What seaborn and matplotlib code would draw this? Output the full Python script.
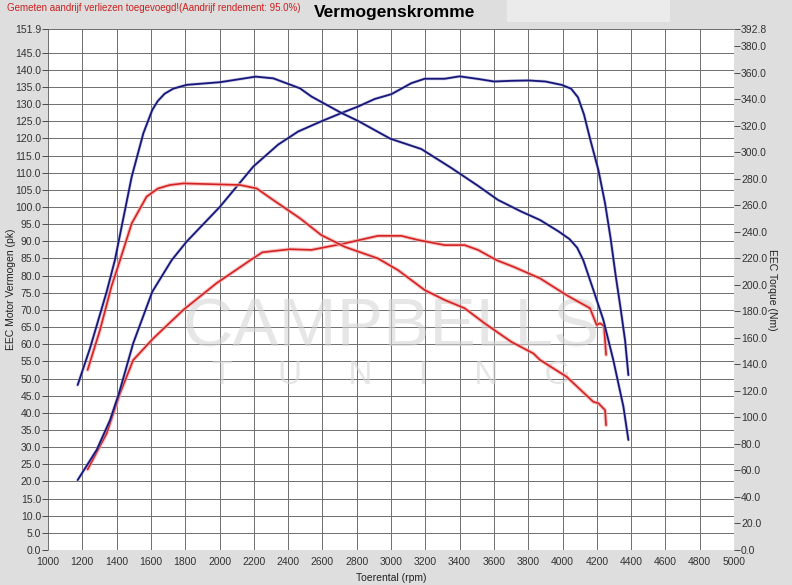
import numpy as np
import pandas as pd
import matplotlib
matplotlib.use("Agg")
import matplotlib.pyplot as plt
import matplotlib.patheffects as pe
from matplotlib.patches import Rectangle
import seaborn as sns

# tuned car (blue) - power in pk, torque in Nm
blue_pk_rpm = [1173, 1284, 1362, 1414, 1497, 1608, 1721, 1808, 2003, 2197, 2342, 2458, 2594,
               2711, 2808, 2905, 3002, 3118, 3196, 3313, 3400, 3513, 3600, 3701, 3803, 3900,
               3996, 4050, 4090, 4125, 4160, 4209, 4248, 4280, 4310, 4340, 4365, 4384]
blue_pk = [20.4, 29.2, 37.9, 45.7, 60.3, 75.3, 84.5, 89.9, 100.1, 111.8, 118.2, 122.0, 125.0,
           127.4, 129.3, 131.5, 132.9, 136.1, 137.4, 137.4, 138.1, 137.3, 136.6, 136.8, 136.9, 136.6,
           135.6, 134.5, 132.0, 127.0, 120.0, 110.8, 101.1, 91.0, 80.0, 70.0, 61.0, 51.0]

blue_nm_rpm = [1173, 1245, 1342, 1390, 1488, 1556, 1608, 1640, 1680, 1730, 1808, 2003, 2211, 2314,
               2469, 2536, 2711, 2808, 2996, 3177, 3351, 3507, 3623, 3759, 3869, 3977, 4040,
               4085, 4121, 4180, 4238, 4296, 4355, 4384]
blue_nm = [124.4, 152.1, 194.7, 218.5, 281.4, 314.2, 331.8, 338.5, 344.0, 347.8, 350.7, 352.7, 356.9, 355.6,
           348.1, 341.9, 329.5, 323.5, 310.1, 302.3, 288.1, 274.6, 264.0, 255.2, 248.8, 240.2, 234.5,
           228.0, 218.5, 196.0, 173.5, 143.3, 108.1, 83.0]

# stock car (red)
red_pk_rpm = [1231, 1342, 1420, 1497, 1614, 1789, 1983, 2180, 2250, 2411, 2536, 2730, 2924,
              3060, 3157, 3313, 3429, 3507, 3616, 3713, 3869, 4024, 4160, 4199, 4219, 4242, 4254]
red_pk = [23.5, 34.0, 45.7, 55.4, 61.7, 70.0, 77.8, 84.5, 86.8, 87.7, 87.5, 89.4, 91.6,
          91.6, 90.4, 88.9, 88.9, 87.5, 84.5, 82.6, 79.2, 74.3, 70.5, 65.6, 66.1, 65.3, 56.9]

red_nm_rpm = [1231, 1303, 1371, 1420, 1488, 1575, 1640, 1711, 1789, 1983, 2120, 2217, 2314, 2469,
              2594, 2730, 2924, 3041, 3196, 3313, 3429, 3546, 3701, 3830, 3869, 4024, 4180,
              4209, 4238, 4248, 4254]
red_nm = [135.8, 165.8, 199.1, 218.5, 246.2, 266.4, 272.5, 275.2, 276.4, 275.7, 275.2, 272.6, 263.8, 250.1,
          237.4, 228.6, 219.8, 211.0, 196.0, 188.5, 182.3, 170.9, 157.0, 148.2, 143.3, 130.6, 111.7,
          110.7, 106.8, 105.5, 94.1]

x_ticks = list(range(1000, 5001, 200))
pk_ticks = [float(v) for v in range(0, 146, 5)] + [151.9]
nm_ticks = [float(v) for v in range(0, 381, 20)] + [392.8]

sns.set_style("white")
plt.rcParams["font.family"] = ["Liberation Sans", "DejaVu Sans"]

bg = "#dedede"
fig = plt.figure(figsize=(7.92, 5.85), dpi=100, facecolor=bg)
ax = fig.add_axes([0.0606, 0.0598, 0.8662, 0.8906])
ax.set_facecolor("white")
ax2 = ax.twinx()

navy = "#17177a"
red = "#d42222"
blue_fx = [pe.Stroke(linewidth=2.3, foreground="#9a9ad0", alpha=0.5), pe.Normal()]
red_fx = [pe.Stroke(linewidth=2.8, foreground="#f4a8a8", alpha=0.7), pe.Normal()]

# watermark
ax.text(0.5, 0.425, "CAMPBELLS", transform=ax.transAxes, ha="center", va="center",
        fontsize=50, color="#d6d6d6", alpha=0.6, zorder=1)
ax.text(0.5, 0.335, "T     U     N     I     N     G", transform=ax.transAxes, ha="center",
        va="center", fontsize=24, color="#d6d6d6", alpha=0.6, zorder=1)

sns.lineplot(x=blue_pk_rpm, y=blue_pk, ax=ax, color=navy, linewidth=1.3, estimator=None,
             zorder=5, path_effects=blue_fx)
sns.lineplot(x=red_pk_rpm, y=red_pk, ax=ax, color=red, linewidth=1.2, estimator=None,
             zorder=4, path_effects=red_fx)
sns.lineplot(x=blue_nm_rpm, y=blue_nm, ax=ax2, color=navy, linewidth=1.3, estimator=None,
             zorder=5, path_effects=blue_fx)
sns.lineplot(x=red_nm_rpm, y=red_nm, ax=ax2, color=red, linewidth=1.2, estimator=None,
             zorder=4, path_effects=red_fx)

ax.set_xlim(1000, 5000)
ax.set_ylim(0, 151.9)
ax2.set_ylim(0, 392.8)
ax.set_xticks(x_ticks)
ax.set_xticklabels([str(v) for v in x_ticks])
ax.set_yticks(pk_ticks)
ax.set_yticklabels(["%.1f" % v for v in pk_ticks])
ax2.set_yticks(nm_ticks)
ax2.set_yticklabels(["%.1f" % v for v in nm_ticks])

ax.grid(True, color="#6e6e6e", linewidth=0.7)
ax.set_axisbelow(True)
for a in (ax, ax2):
    for s in a.spines.values():
        s.set_visible(False)
    a.tick_params(colors="#333333", labelsize=7.5, length=4, width=0.6, pad=1)
ax.tick_params(axis="x", length=3, pad=2)

ax.set_xlabel("Toerental (rpm)", fontsize=7.5, color="#222222")
ax.xaxis.set_label_coords(0.5, -0.045)
ax.set_ylabel("EEC Motor Vermogen (pk)", fontsize=7.5, color="#222222", va="center")
ax.yaxis.set_label_coords(-0.054, 0.5)
ax2.set_ylabel("EEC Torque (Nm)", fontsize=7.5, color="#222222", rotation=270, va="center")
ax2.yaxis.set_label_coords(1.056, 0.5)

fig.patches.append(Rectangle((507 / 792, 1 - 22 / 585), 163 / 792, 22 / 585,
                             transform=fig.transFigure, facecolor="#ebebeb", edgecolor="none"))
fig.text(395 / 792, 1 - 12 / 585, "Vermogenskromme", ha="center", va="center",
         fontsize=12.5, fontweight="bold", color="black")
fig.text(7 / 792, 1 - 8 / 585, "Gemeten aandrijf verliezen toegevoegd!(Aandrijf rendement: 95.0%)",
         ha="left", va="center", fontsize=7, color="#cc2020")

fig.savefig("out.png", dpi=100, facecolor=bg)
